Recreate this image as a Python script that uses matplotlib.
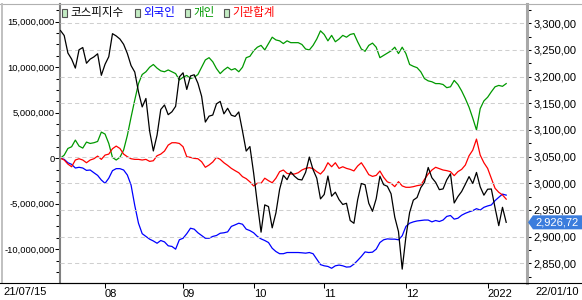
import matplotlib
matplotlib.use('Agg')
import matplotlib.pyplot as plt
from matplotlib.lines import Line2D
from matplotlib.patches import Rectangle, Polygon
from matplotlib.ticker import FuncFormatter, MultipleLocator
import numpy as np

plt.rcParams['font.family'] = ['Liberation Sans', 'Noto Sans CJK KR']

# 코스피지수 (trading days 21/07/15 .. 22/01/10)
kospi = [
    3286.22, 3276.91, 3244.04, 3232.70, 3215.87, 3250.21, 3254.42, 3224.95, 3232.70, 3236.86,
    3242.65, 3202.32, 3223.04, 3237.14, 3280.38, 3276.13, 3270.36, 3260.42, 3243.19, 3220.62,
    3208.38, 3171.29, 3143.09, 3158.93, 3097.83, 3060.51, 3090.21, 3138.30, 3146.70, 3128.53,
    3133.90, 3144.19, 3199.27, 3207.02, 3175.85, 3201.06, 3203.33, 3187.42, 3162.99, 3114.70,
    3125.76, 3127.86, 3148.83, 3153.40, 3130.09, 3140.51, 3127.58, 3125.24, 3133.64, 3097.92,
    3060.27, 3068.82, 3019.18, 2962.17, 2908.31, 2959.46, 2956.30, 2916.38, 2944.41, 2988.64,
    3015.06, 3006.68, 3021.14, 3013.13, 3007.33, 3006.16, 3020.54, 3049.08, 3025.49, 3009.55,
    2970.68, 2978.94, 3013.49, 2975.71, 2983.22, 2969.27, 2960.20, 2962.46, 2930.17, 2924.92,
    2968.80, 2999.52, 2997.21, 2962.42, 2947.38, 2971.02, 3013.25, 2997.33, 2994.29, 2980.27,
    2936.44, 2909.32, 2839.01, 2899.72, 2945.27, 2968.33, 2973.25, 2991.72, 3001.80, 3029.57,
    3010.23, 3001.66, 2987.95, 2989.39, 3006.41, 3017.73, 2963.00, 2975.03, 2984.48, 2998.17,
    3012.43, 2999.55, 3020.24, 2993.29, 2977.65, 2988.77, 2989.24, 2953.97, 2920.53, 2954.89,
    2926.72,
]

# 누적 순매수 (백만 단위로 읽은 값)
foreign = [
    0, -0.13, -0.5, -0.68, -1.08, -1.0, -1.08, -1.34, -1.3, -1.6,
    -1.89, -2.4, -2.76, -2.2, -1.37, -1.15, -1.15, -1.3, -1.85, -2.95,
    -5.2, -7.15, -8.3, -8.6, -8.9, -9.1, -9.35, -9.05, -9.2, -9.63,
    -9.7, -10.0, -8.97, -8.8, -8.3, -7.7, -7.8, -8.2, -8.5, -8.8,
    -8.8, -8.6, -8.5, -8.25, -8.2, -8.1, -7.5, -7.33, -7.15, -7.26,
    -7.8, -7.96, -8.2, -8.6, -8.87, -9.05, -9.27, -9.9, -10.26, -10.5,
    -10.5, -10.37, -10.37, -10.37, -10.37, -10.4, -10.44, -10.37, -10.5, -11.1,
    -11.7, -11.83, -11.9, -12.1, -11.83, -11.75, -11.83, -11.97, -11.94, -11.65,
    -11.24, -10.8, -10.3, -10.37, -10.33, -10.0, -9.27, -8.97, -8.87, -8.9,
    -8.9, -8.97, -8.53, -7.5, -7.15, -7.0, -6.9, -6.85, -6.8, -6.8,
    -7.0, -6.85, -6.96, -6.8, -6.4, -6.3, -6.7, -6.6, -6.27, -6.06,
    -5.9, -5.76, -5.55, -5.7, -5.4, -5.25, -5.14, -4.66, -4.3, -3.95,
    -4.06,
]
retail = [
    0, 0.34, 1.07, 1.26, 1.99, 1.33, 1.11, 1.77, 1.62, 1.70,
    1.84, 2.87, 2.65, 1.62, 0.08, -0.2, 0.1, 0.9, 2.5, 4.5,
    6.4, 8.2, 9.2, 9.5, 10.0, 10.3, 9.9, 9.6, 9.5, 9.7,
    9.5, 9.3, 8.6, 8.9, 9.1, 8.75, 8.9, 9.2, 10.0, 10.8,
    11.05, 10.6, 9.85, 9.3, 9.7, 10.0, 9.7, 9.85, 9.5, 10.0,
    11.05, 11.2, 11.8, 12.2, 12.4, 11.9, 12.6, 13.3, 13.0, 12.9,
    12.6, 12.9, 12.7, 12.7, 12.7, 12.5, 12.0, 11.9, 12.4, 13.1,
    14.0, 13.6, 12.9, 13.5, 12.8, 13.1, 13.5, 13.3, 13.6, 13.7,
    12.8, 12.0, 11.75, 12.4, 12.65, 12.2, 11.05, 11.3, 11.55, 11.8,
    12.2, 11.5, 12.2, 11.5, 10.3, 10.1, 9.95, 9.5, 8.75, 8.5,
    8.4, 8.2, 8.2, 8.1, 7.75, 7.85, 8.55, 8.1, 7.4, 6.55,
    5.6, 4.4, 3.1, 5.45, 6.3, 6.7, 7.3, 7.85, 8.0, 7.9,
    8.2,
]
institution = [
    0, -0.2, -0.65, -0.94, -0.2, -0.06, -0.2, -0.5, -0.2, -0.06,
    0.23, -0.13, 0.34, 0.45, 1.04, 1.33, 1.07, 0.45, 0.16, -0.06,
    -0.13, -0.13, -0.2, -0.13, -0.35, -0.28, 0.27, 0.45, 0.78, 1.44,
    1.7, 1.7, 1.62, 1.26, 0.16, 0.09, -0.02, -0.06, -0.39, -1.0,
    -0.75, -0.42, 0.09, -0.13, -0.5, -0.79, -1.12, -1.37, -1.6, -2.03,
    -2.25, -2.6, -3.05, -2.76, -2.76, -2.2, -2.47, -2.7, -2.2, -1.48,
    -1.3, -1.67, -1.74, -1.74, -1.6, -1.3, -1.12, -1.04, -1.15, -1.48,
    -1.74, -1.3, -0.5, -0.94, -0.5, -1.12, -0.94, -1.12, -1.23, -1.4,
    -0.86, -0.5, -1.12, -1.81, -2.0, -1.89, -1.41, -2.1, -2.6, -2.76,
    -3.13, -2.58, -3.05, -3.2, -3.2, -3.13, -3.02, -2.95, -2.33, -1.74,
    -1.3, -1.0, -1.15, -1.3, -1.37, -1.48, -1.92, -1.48, -1.23, -0.75,
    0.27, 0.89, 2.1, 0.34, -0.5, -1.12, -2.22, -3.31, -3.75, -4.04,
    -4.5,
]

# first trading day of each month (index into the series above)
month_ticks = [12, 33, 52, 71, 93, 115]
month_labels = ['08', '09', '10', '11', '12', '2022']
first_date = '21/07/15'
last_date = '22/01/10'

legend_labels = ['코스피지수', '외국인', '개인', '기관합계']
legend_colors = ['black', '#0000ff', '#009900', '#ff0000']

W, H = 582, 300


def fx(px):
    return px / W


def fy(py):
    return 1 - py / H


fig = plt.figure(figsize=(W / 100, H / 100), dpi=100)
ax = fig.add_axes([fx(60), fy(283), 467 / W, 279 / H])
ax2 = ax.twinx()

x = np.arange(len(kospi))
ax.plot(x, np.array(foreign) * 1e6, color='#0000ff', lw=0.9)
ax.plot(x, np.array(retail) * 1e6, color='#009900', lw=0.9)
ax.plot(x, np.array(institution) * 1e6, color='#ff0000', lw=0.9)
ax2.plot(x, kospi, color='black', lw=0.9)

ax.set_xlim(-0.13, 125.6)
ax.set_ylim(-13.72e6, 16.95e6)
ax2.set_ylim(2813, 3336)

ax.yaxis.set_major_locator(MultipleLocator(5e6))
ax.yaxis.set_minor_locator(MultipleLocator(1.25e6))
ax.yaxis.set_major_formatter(FuncFormatter(lambda v, p: f'{v:,.0f}'))
ax2.yaxis.set_major_locator(MultipleLocator(50))
ax2.yaxis.set_minor_locator(MultipleLocator(25))
ax2.yaxis.set_major_formatter(FuncFormatter(lambda v, p: f'{v:,.2f}'.replace('.', ',')))

ax2.yaxis.grid(True, which='major', color='#cfcfcf', linestyle=(0, (4, 3)), linewidth=0.75)

ax.set_xticks(month_ticks)
ax.set_xticklabels(month_labels, ha='left')

ax.tick_params(axis='y', which='major', direction='out', length=3.4, width=0.75, pad=0.3, labelsize=6.8)
ax.tick_params(axis='y', which='minor', direction='out', length=3.0, width=0.75)
ax2.tick_params(axis='y', which='major', direction='out', length=3.0, width=0.75, pad=1.5, labelsize=8)
ax2.tick_params(axis='y', which='minor', direction='out', length=3.0, width=0.75)
ax.tick_params(axis='x', direction='out', length=3.6, width=0.75, pad=0.5, labelsize=8)

ax.spines['left'].set_color('#808080')
ax.spines['left'].set_linewidth(1.5)
ax.spines['right'].set_visible(False)
ax.spines['top'].set_visible(False)
ax.spines['bottom'].set_color('black')
ax.spines['bottom'].set_linewidth(0.8)
for s in ['left', 'top', 'bottom']:
    ax2.spines[s].set_visible(False)
ax2.spines['right'].set_color('#a8a8a8')
ax2.spines['right'].set_linewidth(2.2)

# outer frame
fig.add_artist(Line2D([0, 1], [fy(4), fy(4)], color='#b0b0b0', lw=0.8))
fig.add_artist(Line2D([fx(1.5), fx(1.5)], [fy(4), fy(283)], color='#c0c0c0', lw=1.4))
fig.add_artist(Line2D([0, 1], [fy(283), fy(283)], color='black', lw=0.8))

fig.text(fx(3), fy(292), first_date, ha='left', va='center', fontsize=8)
fig.text(fx(535), fy(292), last_date, ha='left', va='center', fontsize=8)

# legend
icon_x = [62, 135, 185, 224]
for label, color, xpos in zip(legend_labels, legend_colors, icon_x):
    fig.add_artist(Rectangle((fx(xpos), fy(16.5)), 5 / W, 8 / H, facecolor='#c4ecc4',
                             edgecolor='#555555', lw=0.8, transform=fig.transFigure))
    fig.text(fx(xpos + 8.5), fy(12.5), label, ha='left', va='center', color=color,
             fontsize=8.3, family=['Noto Sans CJK KR', 'DejaVu Sans'])

# current value badge
fig.canvas.draw()
yd = ax2.transData.transform((0, kospi[-1]))[1]
yb = H - yd
badge = Polygon([(fx(528), fy(yb)), (fx(533), fy(yb - 7)), (fx(582), fy(yb - 7)),
                 (fx(582), fy(yb + 7)), (fx(533), fy(yb + 7))],
                closed=True, facecolor='#3b7ddd', edgecolor='none', transform=fig.transFigure)
fig.add_artist(badge)
fig.text(fx(557), fy(yb), f'{kospi[-1]:,.2f}'.replace('.', ','), ha='center', va='center',
         color='white', fontsize=8)

fig.savefig('out.png', dpi=100)
